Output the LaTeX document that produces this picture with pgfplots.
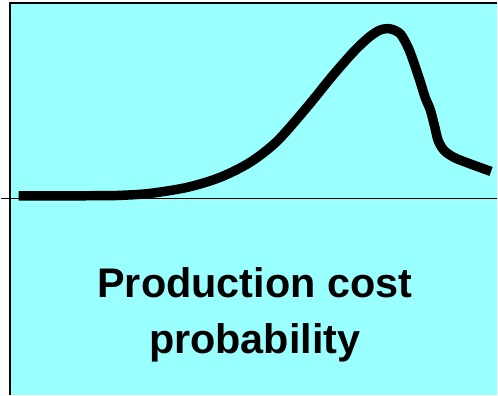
\documentclass[border=0pt]{standalone}
\usepackage{fontspec}
\setmainfont{Liberation Sans}
\usepackage{pgfplots}
\pgfplotsset{compat=1.18}
\definecolor{bgcyan}{HTML}{99FFFF}
\begin{document}
\begin{tikzpicture}
\begin{axis}[
  width=498bp, height=396bp, scale only axis,
  xmin=0, xmax=498, ymin=0, ymax=396, y dir=reverse,
  hide axis, clip=false,
]
\path (axis cs:0,0) rectangle (axis cs:498,396);
\fill[bgcyan] (axis cs:9,4) rectangle (axis cs:498,396);
\draw[black, line width=1.2bp] (axis cs:0,199.5) -- (axis cs:498,199.5);
\addplot[black, line width=9.5bp, line cap=butt, line join=round, smooth, tension=0.5] coordinates {
(18,196.5) (60,196.5) (100,196.3) (120,196) (150,194) (187,188) (220,178)
(250,163) (277,142) (307,108) (333,76) (355,51) (370,37) (381,30) (391,29)
(401,34) (409,48) (415,64) (421,82) (426,98) (431,110) (435,125) (439,141)
(445,151) (455,158) (470,164) (492,172)
};
\draw[black, line width=2bp] (axis cs:9,396) -- (axis cs:9,3.5) -- (axis cs:498,3.5);
\node[font=\fontsize{41.5bp}{56bp}\selectfont\bfseries, align=center] at (axis cs:255,316) {Production cost\\probability};
\end{axis}
\end{tikzpicture}
\end{document}
